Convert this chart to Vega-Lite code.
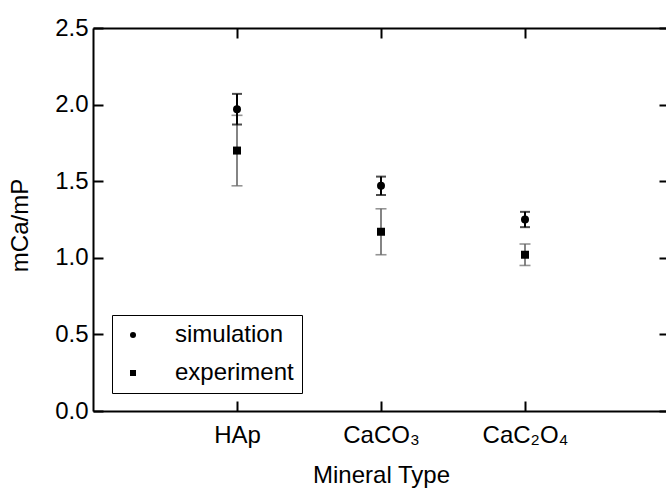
{
  "$schema": "https://vega.github.io/schema/vega-lite/v6.json",
  "width": 576,
  "height": 383,
  "autosize": {"type": "none"},
  "padding": {"left": 93, "top": 28, "right": 0, "bottom": 81},
  "background": "white",
  "config": {
    "view": {"stroke": null},
    "font": "Liberation Sans",
    "axis": {
      "grid": false,
      "domainColor": "black",
      "domainWidth": 2,
      "tickColor": "black",
      "tickWidth": 2,
      "labelFont": "Liberation Sans",
      "labelFontSize": 24,
      "labelColor": "black",
      "titleFont": "Liberation Sans",
      "titleFontSize": 24,
      "titleFontWeight": "normal",
      "titleColor": "black"
    },
    "legend": {
      "labelFont": "Liberation Sans",
      "labelFontSize": 24,
      "labelColor": "black"
    }
  },
  "data": {
    "values": [
      {"pos": 1, "mineral": "HAp", "series": "simulation", "value": 1.97, "lo": 1.87, "hi": 2.07},
      {"pos": 1, "mineral": "HAp", "series": "experiment", "value": 1.70, "lo": 1.47, "hi": 1.93},
      {"pos": 2, "mineral": "CaCO3", "series": "simulation", "value": 1.47, "lo": 1.41, "hi": 1.53},
      {"pos": 2, "mineral": "CaCO3", "series": "experiment", "value": 1.17, "lo": 1.02, "hi": 1.32},
      {"pos": 3, "mineral": "CaC2O4", "series": "simulation", "value": 1.25, "lo": 1.20, "hi": 1.30},
      {"pos": 3, "mineral": "CaC2O4", "series": "experiment", "value": 1.02, "lo": 0.95, "hi": 1.09}
    ]
  },
  "resolve": {"axis": {"x": "independent", "y": "independent"}},
  "layer": [
    {
      "transform": [{"filter": "datum.series == 'experiment'"}],
      "mark": {"type": "rule", "strokeWidth": 1.6, "color": "#666666"},
      "encoding": {
        "x": {"field": "pos", "type": "quantitative", "scale": {"domain": [0, 4], "nice": false},
              "axis": {"orient": "top", "values": [1, 2, 3], "labels": false, "title": null, "tickSize": -10}},
        "y": {"field": "lo", "type": "quantitative", "scale": {"domain": [0, 2.5], "nice": false},
              "axis": {"orient": "right", "values": [0, 0.5, 1, 1.5, 2, 2.5], "labels": false, "title": null, "tickSize": -10}},
        "y2": {"field": "hi"}
      }
    },
    {
      "transform": [{"filter": "datum.series == 'experiment'"}],
      "mark": {"type": "tick", "orient": "horizontal", "size": 11, "thickness": 1.6, "color": "#666666"},
      "encoding": {
        "x": {"field": "pos", "type": "quantitative", "axis": null},
        "y": {"field": "lo", "type": "quantitative", "axis": null}
      }
    },
    {
      "transform": [{"filter": "datum.series == 'experiment'"}],
      "mark": {"type": "tick", "orient": "horizontal", "size": 11, "thickness": 1.6, "color": "#666666"},
      "encoding": {
        "x": {"field": "pos", "type": "quantitative", "axis": null},
        "y": {"field": "hi", "type": "quantitative", "axis": null}
      }
    },
    {
      "transform": [{"filter": "datum.series == 'simulation'"}],
      "mark": {"type": "rule", "strokeWidth": 2, "color": "black"},
      "encoding": {
        "x": {"field": "pos", "type": "quantitative", "axis": null},
        "y": {"field": "lo", "type": "quantitative", "axis": null},
        "y2": {"field": "hi"}
      }
    },
    {
      "transform": [{"filter": "datum.series == 'simulation'"}],
      "mark": {"type": "tick", "orient": "horizontal", "size": 10, "thickness": 2, "color": "black"},
      "encoding": {
        "x": {"field": "pos", "type": "quantitative", "axis": null},
        "y": {"field": "lo", "type": "quantitative", "axis": null}
      }
    },
    {
      "transform": [{"filter": "datum.series == 'simulation'"}],
      "mark": {"type": "tick", "orient": "horizontal", "size": 10, "thickness": 2, "color": "black"},
      "encoding": {
        "x": {"field": "pos", "type": "quantitative", "axis": null},
        "y": {"field": "hi", "type": "quantitative", "axis": null}
      }
    },
    {
      "mark": {"type": "point", "filled": true, "opacity": 1, "color": "black", "size": 64},
      "encoding": {
        "x": {"field": "pos", "type": "quantitative",
              "axis": {"orient": "bottom", "values": [1, 2, 3], "tickSize": -10, "labelPadding": 22,
                       "labelExpr": "datum.value == 1 ? 'HAp' : datum.value == 2 ? 'CaCO₃' : 'CaC₂O₄'",
                       "title": "Mineral Type", "titlePadding": 16}},
        "y": {"field": "value", "type": "quantitative",
              "axis": {"orient": "left", "values": [0, 0.5, 1, 1.5, 2, 2.5], "format": ".1f", "tickSize": -10, "labelPadding": 15,
                       "title": "mCa/mP", "titleAngle": -90, "titleX": -66, "titleY": 197, "titleAlign": "center", "titleBaseline": "alphabetic"}},
        "shape": {"field": "series", "type": "nominal",
                  "scale": {"domain": ["simulation", "experiment"], "range": ["circle", "square"]},
                  "legend": {"title": null, "orient": "none", "legendX": 19, "legendY": 287,
                             "strokeColor": "black", "padding": 8,
                             "symbolSize": 36, "symbolFillColor": "black", "symbolStrokeColor": "black", "symbolStrokeWidth": 0,
                             "rowPadding": 14, "labelOffset": 30, "symbolOffset": 1,
                             "labelExpr": "datum.label + '  '",
                             "encode": {"legend": {"update": {"strokeDash": {"value": [2, 2]}, "strokeWidth": {"value": 1.5}}}}}}
      }
    }
  ]
}
